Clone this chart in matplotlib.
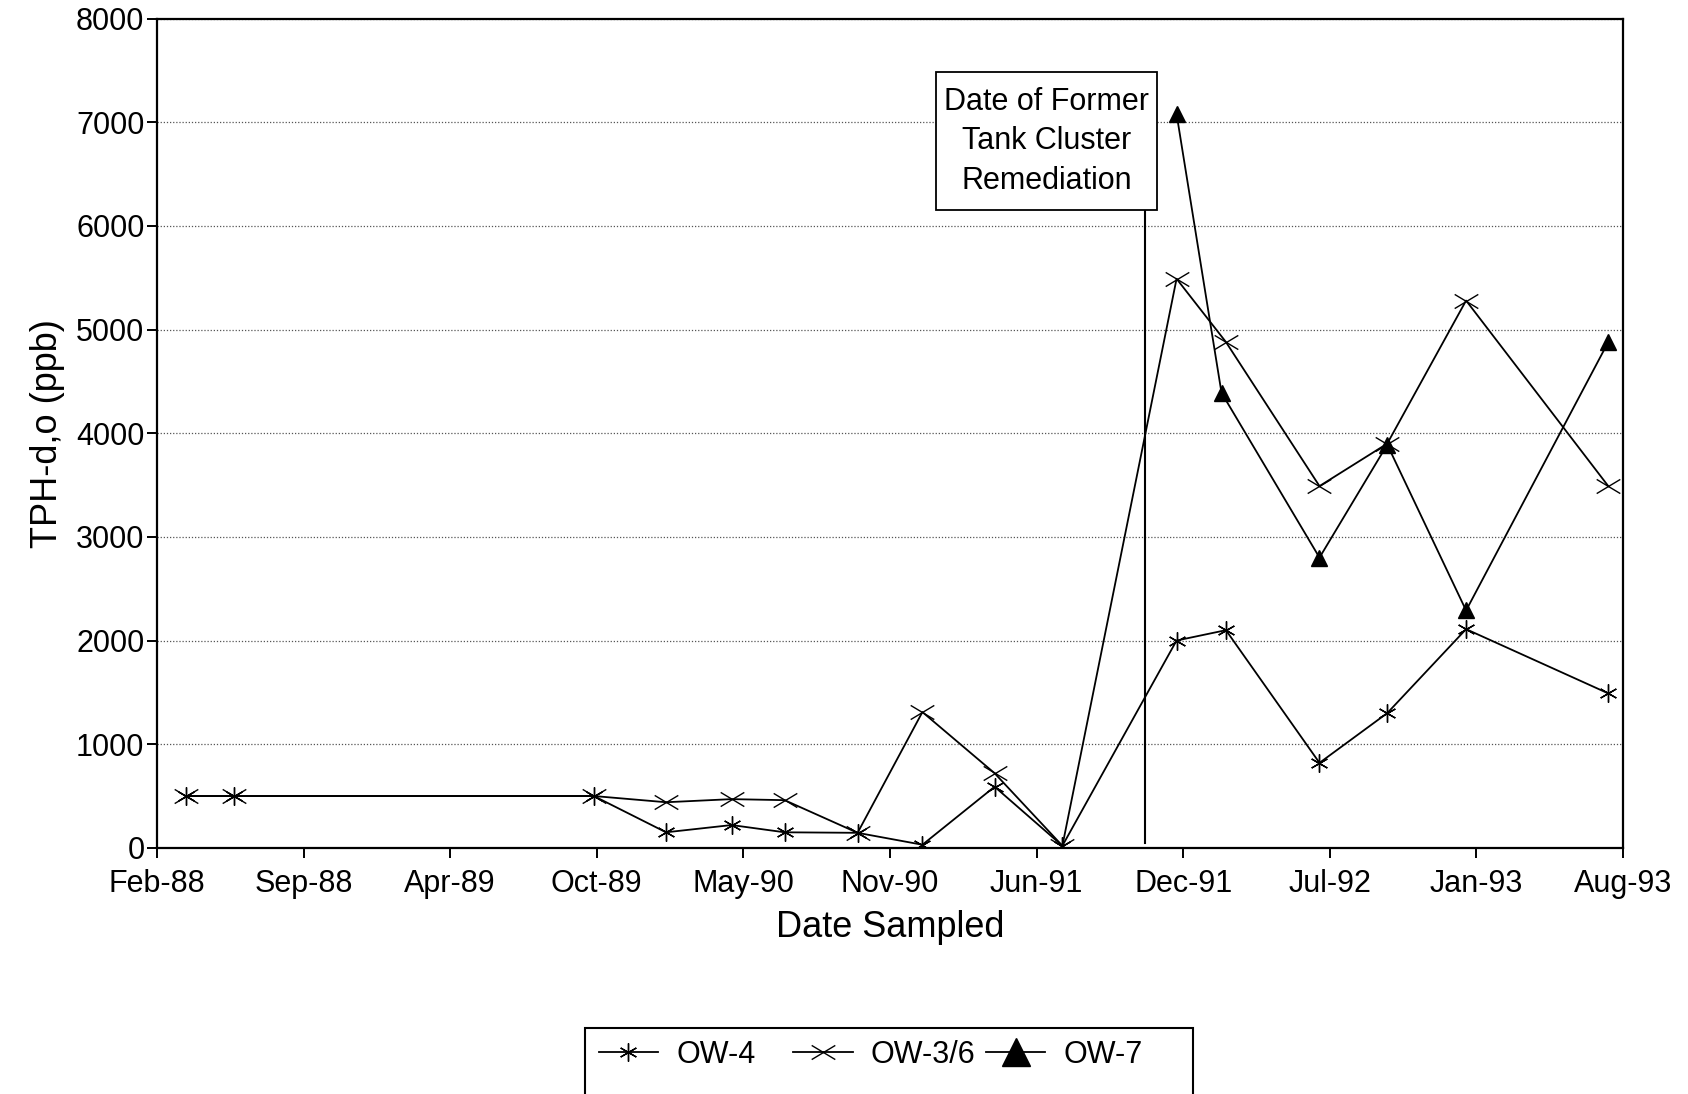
import matplotlib
matplotlib.use("Agg")
import matplotlib.pyplot as plt
import matplotlib.dates as mdates
from matplotlib.path import Path
from matplotlib.patches import Rectangle
import numpy as np
import pandas as pd

plt.rcParams['font.family'] = ['Liberation Sans', 'DejaVu Sans']

# Dane - TPH-d,o w studniach obserwacyjnych
dates_ow4 = ["1988-04-07", "1988-06-11", "1989-10-13", "1990-01-19", "1990-04-18",
             "1990-06-29", "1990-10-06", "1991-01-02", "1991-04-10", "1991-07-11",
             "1991-12-13", "1992-02-18", "1992-06-24", "1992-09-24", "1993-01-09",
             "1993-07-21"]
ow4 = [500, 500, 500, 150, 220, 150, 145, 30, 590, 20,
       2000, 2100, 820, 1300, 2110, 1490]

dates_ow36 = dates_ow4
ow36 = [500, 500, 500, 440, 470, 460, 145, 1310, 720, 20,
        5490, 4880, 3490, 3900, 5280, 3490]

dates_ow7 = ["1991-12-13", "1992-02-12", "1992-06-24", "1992-09-24", "1993-01-09",
             "1993-07-21"]
ow7 = [7080, 4390, 2800, 3890, 2290, 4880]

remediation_date = "1991-10-31"
note_text = "Date of Former\nTank Cluster\nRemediation"

# Osie X: co 199 dni od lutego 88
tick_start = pd.Timestamp("1988-02-28")
tick_dates = [tick_start + pd.Timedelta(days=199 * i) for i in range(11)]
tick_labels = ["Feb-88", "Sep-88", "Apr-89", "Oct-89", "May-90", "Nov-90",
               "Jun-91", "Dec-91", "Jul-92", "Jan-93", "Aug-93"]

def to_num(ds):
    return mdates.date2num(pd.to_datetime(ds))

# Znaczniki
wide_x = Path([(-1, -0.6), (1, 0.6), (-1, 0.6), (1, -0.6)],
              [Path.MOVETO, Path.LINETO, Path.MOVETO, Path.LINETO])

fig = plt.figure(figsize=(16.88, 10.94), dpi=100)
ax = fig.add_axes([0.093, 0.225, 0.8685, 0.758])

l1, = ax.plot(to_num(dates_ow4), ow4, color="black", lw=1.3, marker=(6, 2, 0),
              markersize=13, markeredgewidth=1.0, label="OW-4")
l2, = ax.plot(to_num(dates_ow36), ow36, color="black", lw=1.3, marker=wide_x,
              markersize=17, markeredgewidth=1.0, label="OW-3/6")
l3, = ax.plot(to_num(dates_ow7), ow7, color="black", lw=1.3, marker="^",
              markersize=12, markerfacecolor="black", label="OW-7")

# Linia daty remediacji i opis
rx = to_num(remediation_date)
ax.plot([rx, rx], [50, 6150], color="black", lw=1.5)
box_left = to_num("1991-01-21")
box_right = to_num("1991-11-16")
ax.add_patch(Rectangle((box_left, 6150), box_right - box_left, 1330,
                       facecolor="white", edgecolor="black", lw=1.3, zorder=4))
ax.text((box_left + box_right) / 2, 6815, note_text, ha="center", va="center",
        fontsize=22, linespacing=1.4, zorder=5)

ax.set_xlim(to_num(tick_dates[0]), to_num(tick_dates[-1]))
ax.set_ylim(0, 8000)
ax.set_xticks(to_num(tick_dates))
ax.set_xticklabels(tick_labels)
ax.set_yticks(np.arange(0, 8001, 1000))

ax.yaxis.grid(True, color="#555555", linestyle=(0, (1, 1.5)), lw=0.9)
ax.set_axisbelow(True)
for s in ax.spines.values():
    s.set_linewidth(1.6)

ax.tick_params(axis="both", direction="out", length=7, width=1.4, labelsize=22)
ax.tick_params(axis="x", pad=8)
ax.tick_params(axis="y", pad=2)

ax.set_xlabel("Date Sampled", fontsize=26, labelpad=8)
ax.set_ylabel("TPH-d,o (ppb)", fontsize=26, labelpad=8)

# Legenda - kolumny o stałej szerokości
for line, x0 in zip([l1, l2, l3], [0.3546, 0.4700, 0.5842]):
    leg = fig.legend([line], [line.get_label()], loc="center left",
                     bbox_to_anchor=(x0, 0.0357), frameon=False, fontsize=22,
                     handlelength=1.94, handletextpad=0.6,
                     borderpad=0, borderaxespad=0)
    if line is l3:
        leg.legend_handles[0].set_markersize(20)
fig.patches.append(Rectangle((0.3466, -0.05), 0.3602, 0.1103,
                             transform=fig.transFigure, facecolor="none",
                             edgecolor="black", lw=1.5))

plt.savefig("out.png", dpi=100)
plt.close()
